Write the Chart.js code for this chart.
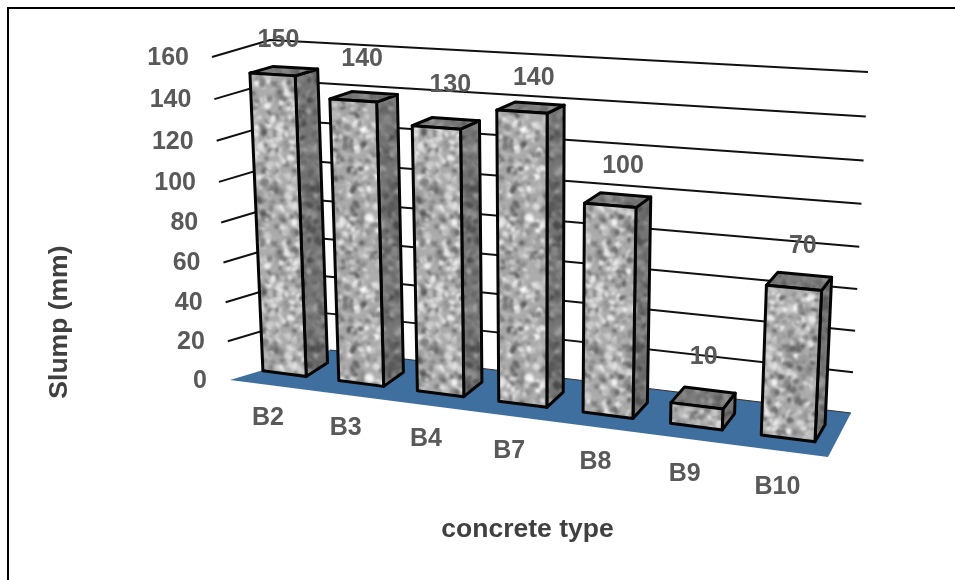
<!DOCTYPE html>
<html>
<head>
<meta charset="utf-8">
<title>Slump by concrete type</title>
<script src="https://cdn.jsdelivr.net/npm/chart.js@4"></script>
<style>
html, body { margin: 0; height: 100%; background: #fff; overflow: hidden; }
#frame { position: absolute; left: 7px; top: 7px; right: 0; bottom: 0; border-left: 2px solid #000; border-top: 2px solid #000; }
canvas { position: absolute; left: 0; top: 0; }
</style>
</head>
<body>
<div id="frame"></div>
<canvas id="slumpChart" width="955" height="580"></canvas>
<script>
const categories = ['B2', 'B3', 'B4', 'B7', 'B8', 'B9', 'B10'];
const slump = [150, 140, 130, 140, 100, 10, 70];
const yMax = 160;
const yStep = 20;

// Perspective camera fitted to the bars: (across, up, depth) in 0..1 -> screen
const camera = [
    [489.53076, -25.60139, 28.91324, 247.10266],
    [23.17829, -319.9153, -4.76406, 368.81833],
    [-0.11795, -0.04724, 0.02422, 1]
];
// Outline of the side wall, back wall and floor of the 3D box
const sideEdge = { top: [212, 57], bottom: [230, 380] };
const cornerEdge = { top: [270, 40], bottom: [330, 350] };
const backEdge = { top: [868, 72], bottom: [851, 413] };
const floorFrontRight = [828, 457];
const wallTilt = 0.05; // grid lines sit a bit closer together near the floor

// Hand placed value labels, as in the original chart
const labelShift = [[6, -34], [9, -41], [14, -42], [12, -34], [13, -39], [7, -49], [9, -42]];

const textFont = 'bold 25px "Liberation Sans", Arial, sans-serif';
const textColor = '#595959';

function project(area, px, py, z) {
    const u = (px - area.left) / area.width;
    const v = (area.bottom - py) / area.height;
    const w = camera[2][0] * u + camera[2][1] * v + camera[2][2] * z + camera[2][3];
    return [
        (camera[0][0] * u + camera[0][1] * v + camera[0][2] * z + camera[0][3]) / w,
        (camera[1][0] * u + camera[1][1] * v + camera[1][2] * z + camera[1][3]) / w
    ];
}

function onEdge(edge, v) {
    const t = v / (1 + wallTilt * (1 - v));
    return [
        edge.bottom[0] + (edge.top[0] - edge.bottom[0]) * t,
        edge.bottom[1] + (edge.top[1] - edge.bottom[1]) * t
    ];
}

// Granite look, tile is seeded so that it comes out the same every time
function graniteTile(base, spread) {
    let seed = 12345;
    const next = () => (seed = (seed * 16807) % 2147483647) / 2147483647;
    const tile = document.createElement('canvas');
    const size = 160;
    tile.width = tile.height = size;
    const t = tile.getContext('2d');
    t.fillStyle = `rgb(${base},${base},${base})`;
    t.fillRect(0, 0, size, size);
    t.filter = 'blur(1.4px)';
    for (let i = 0; i < 1300; i++) {
        const g = Math.round(base + (next() - 0.5) * spread);
        const ex = next() * size, ey = next() * size;
        const rx = 1.2 + next() * 3.5, ry = 1 + next() * 2.5, rot = next() * 3;
        t.fillStyle = `rgb(${g},${g},${g})`;
        // draw at the wrapped spots too so the tile has no seams
        [-size, 0, size].forEach(ox => [-size, 0, size].forEach(oy => {
            t.beginPath();
            t.ellipse(ex + ox, ey + oy, rx, ry, rot, 0, 7);
            t.fill();
        }));
    }
    return tile;
}

function polygon(ctx, points) {
    ctx.beginPath();
    points.forEach((p, i) => i ? ctx.lineTo(p[0], p[1]) : ctx.moveTo(p[0], p[1]));
    ctx.closePath();
}

const wallsPlugin = {
    id: 'walls',
    beforeDatasetsDraw(chart) {
        const { ctx, chartArea: a, scales: { y } } = chart;
        ctx.save();
        polygon(ctx, [sideEdge.bottom, floorFrontRight, backEdge.bottom, cornerEdge.bottom]);
        ctx.fillStyle = '#3f6f9f';
        ctx.fill();
        // thin line where the floor meets the back wall
        ctx.strokeStyle = '#333';
        ctx.lineWidth = 1.2;
        ctx.beginPath();
        ctx.moveTo(cornerEdge.bottom[0], cornerEdge.bottom[1]);
        ctx.lineTo(backEdge.bottom[0], backEdge.bottom[1]);
        ctx.stroke();
        // grid lines run along the side wall and then the back wall
        ctx.strokeStyle = '#111';
        ctx.lineWidth = 2;
        ctx.lineJoin = 'round';
        y.ticks.forEach(tick => {
            if (tick.value === 0) return;
            const v = (a.bottom - y.getPixelForValue(tick.value)) / a.height;
            const [p0, p1, p2] = [onEdge(sideEdge, v), onEdge(cornerEdge, v), onEdge(backEdge, v)];
            ctx.beginPath();
            ctx.moveTo(p0[0], p0[1]);
            ctx.lineTo(p1[0], p1[1]);
            ctx.lineTo(p2[0], p2[1]);
            ctx.stroke();
        });
        ctx.restore();
    },
    afterDatasetsDraw(chart) {
        const { ctx, chartArea: a, scales: { x, y } } = chart;
        const faces = {
            front: ctx.createPattern(graniteTile(172, 170), 'repeat'),
            side: ctx.createPattern(graniteTile(118, 100), 'repeat'),
            top: ctx.createPattern(graniteTile(125, 80), 'repeat')
        };
        ctx.save();
        ctx.lineJoin = 'round';
        ctx.lineWidth = 3;
        ctx.strokeStyle = '#050505';
        const bars = chart.getDatasetMeta(0).data;
        bars.forEach(bar => {
            const left = bar.x - bar.width / 2, right = bar.x + bar.width / 2;
            const ftl = project(a, left, bar.y, 0), ftr = project(a, right, bar.y, 0);
            const fbl = project(a, left, bar.base, 0), fbr = project(a, right, bar.base, 0);
            const btl = project(a, left, bar.y, 1), btr = project(a, right, bar.y, 1);
            const bbr = project(a, right, bar.base, 1);
            [[[ftr, btr, bbr, fbr], faces.side], [[ftl, ftr, btr, btl], faces.top], [[ftl, ftr, fbr, fbl], faces.front]].forEach(([pts, fill]) => {
                polygon(ctx, pts);
                ctx.fillStyle = fill;
                ctx.fill();
                ctx.stroke();
            });
        });
        // value labels, category labels, tick labels
        ctx.font = textFont;
        ctx.fillStyle = textColor;
        ctx.textAlign = 'center';
        ctx.textBaseline = 'middle';
        bars.forEach((bar, i) => {
            const top = project(a, bar.x, bar.y, 0);
            ctx.fillText(String(slump[i]), top[0] + labelShift[i][0], top[1] + labelShift[i][1]);
            const foot = project(a, bar.x, bar.base, 0);
            ctx.fillText(x.getLabelForValue(i), foot[0] - 16.5 + i, foot[1] + 44 + i * 0.8);
        });
        ctx.textAlign = 'right';
        y.ticks.forEach(tick => {
            const v = (a.bottom - y.getPixelForValue(tick.value)) / a.height;
            const p = onEdge(sideEdge, v);
            ctx.fillText(tick.label, p[0] - 23, p[1] + 1);
        });
        ctx.restore();
    }
};

new Chart(document.getElementById('slumpChart').getContext('2d'), {
    type: 'bar',
    data: {
        labels: categories,
        datasets: [{
            label: 'Slump (mm)',
            data: slump,
            backgroundColor: 'rgba(0,0,0,0)',
            barPercentage: 0.575,
            categoryPercentage: 1
        }]
    },
    options: {
        responsive: false,
        animation: false,
        layout: { padding: { left: 40, top: 142, right: 0, bottom: 30 } },
        plugins: { legend: { display: false }, tooltip: { enabled: false } },
        scales: {
            x: {
                grid: { display: false },
                border: { display: false },
                ticks: { display: false },
                title: {
                    display: true,
                    text: 'concrete type',
                    color: '#404040',
                    font: { family: '"Liberation Sans"', size: 26.5, weight: 'bold' }
                }
            },
            y: {
                min: 0,
                max: yMax,
                grid: { display: false },
                border: { display: false },
                ticks: { display: false, stepSize: yStep },
                afterFit(scale) { scale.width = 60; },
                title: {
                    display: true,
                    text: 'Slump (mm)',
                    color: '#404040',
                    font: { family: '"Liberation Sans"', size: 26.5, weight: 'bold' }
                }
            }
        }
    },
    plugins: [wallsPlugin]
});
</script>
</body>
</html>
